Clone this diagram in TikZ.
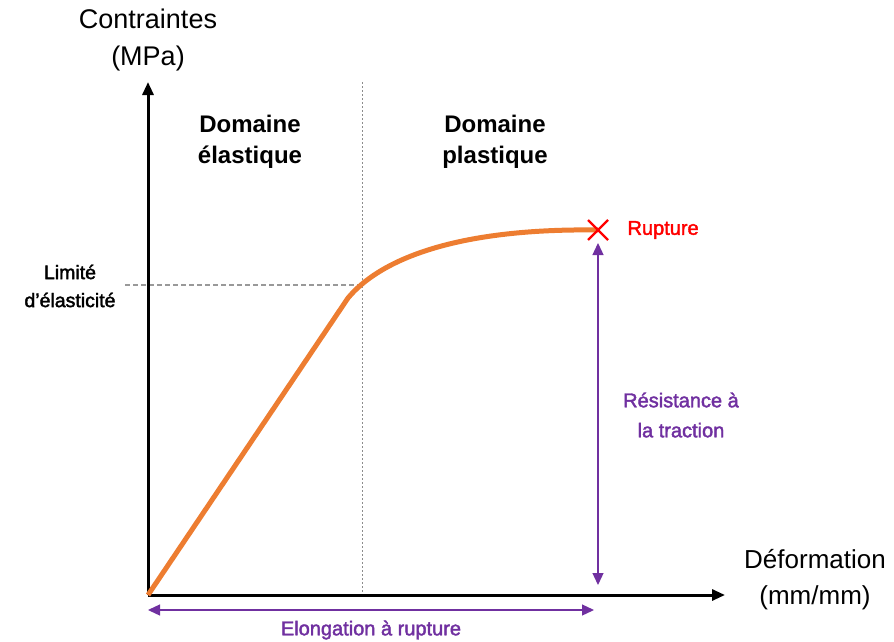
\documentclass[tikz,border=0pt]{standalone}
\usepackage{fontspec}
\setmainfont{Liberation Sans}
\newfontfamily\demigras[FakeBold=2]{Liberation Sans}
\usetikzlibrary{arrows.meta,positioning,calc}
\definecolor{courbe}{RGB}{237,125,49}
\definecolor{violet}{RGB}{112,48,160}
\begin{document}
\begin{tikzpicture}[x=1pt,y=-1pt,
		axe/.style={line width=3pt,-{Triangle[length=13pt,width=11pt]}},
		fleche/.style={violet,line width=1.3pt,{Triangle[length=12pt,width=11pt]}-{Triangle[length=12pt,width=11pt]}},
		titre/.style={align=center,font=\fontsize{27}{37}\selectfont},
		domaine/.style={align=center,font=\fontsize{24}{31}\selectfont\bfseries},
		etiquette/.style={align=center,text=violet,font=\demigras\fontsize{20}{30}\selectfont}]
	\useasboundingbox (0,0) rectangle (894,642);
	\coordinate (o) at (148,595);
	\coordinate (haut) at (148,82);
	\coordinate (droite) at (725,595);
	\coordinate (limite) at (362,285);
	\coordinate (coude) at (348,298);
	\coordinate (rupt) at (598,230);
	\draw[gray!80,line width=1.2pt,dash pattern=on 5pt off 3pt] (125,285) -- (limite);
	\draw[gray!90,line width=0.8pt,dash pattern=on 2pt off 2pt] (362,82) -- (362,595);
	\draw[axe] (o) -- (haut);
	\draw[axe] (o) -- (droite);
	\draw[courbe,line width=5pt,line join=round] (o) -- (coude)
		.. controls (378,262) and (450,228) .. (rupt);
	\draw[red,line width=2.2pt] ($(rupt)+(-10,-10)$) -- ($(rupt)+(10,10)$)
		($(rupt)+(-10,10)$) -- ($(rupt)+(10,-10)$);
	\node[titre] (contr) at (148,40) {Contraintes\\(MPa)};
	\node[titre,font=\fontsize{26}{36}\selectfont] (defo) at (815,580) {Déformation\\(mm/mm)};
	\node[domaine] (elast) at (250,142) {Domaine\\élastique};
	\node[domaine] (plast) at (495,142) {Domaine\\plastique};
	\node[align=center,font=\demigras\fontsize{19.5}{28}\selectfont] (lim) at (70,286) {Limité\\d’élasticité};
	\node[anchor=west,text=red,font=\demigras\fontsize{20}{24}\selectfont] (rup) at (624,230) {Rupture};
	\coordinate (rbas) at (598,585);
	\coordinate (rhaut) at (598,243);
	\draw[fleche] (rhaut) -- (rbas);
	\node[etiquette] (resist) at (681,415) {Résistance à\\la traction};
	\coordinate (eg) at (148,610);
	\coordinate (ed) at (594,610);
	\draw[fleche] (eg) -- (ed);
	\node[etiquette] (elong) at (371,630) {Elongation à rupture};
\end{tikzpicture}
\end{document}
